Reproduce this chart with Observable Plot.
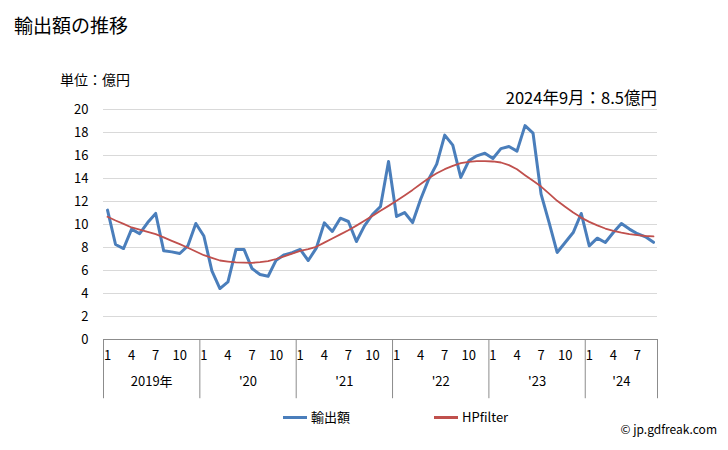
<!DOCTYPE html>
<html><head><meta charset="utf-8">
<script src="https://cdn.jsdelivr.net/npm/d3@7"></script>
<script src="https://cdn.jsdelivr.net/npm/@observablehq/plot@0.6"></script>
<style>
body{margin:0;background:#fff;font-family:"Noto Sans CJK JP","Noto Sans",sans-serif}
#wrap{position:relative;width:728px;height:450px;overflow:hidden}
#wrap svg{position:absolute;left:0;top:0}
.t{position:absolute;white-space:nowrap;color:#000;line-height:1}
.sw{position:absolute;height:3px}
</style></head><body><div id="wrap"></div>
<script>
// 2019-01 .. 2024-09 (69 months), 億円
const exportVals = [11.25,8.26,7.91,9.6,9.2,10.17,10.96,7.71,7.62,7.48,8.14,10.09,
  9.0,5.97,4.43,5.01,7.83,7.83,6.17,5.65,5.5,6.9,7.36,7.55,
  7.83,6.87,7.94,10.14,9.39,10.55,10.26,8.52,9.88,10.87,11.57,15.48,
  10.7,11.04,10.17,12.2,13.94,15.25,17.77,16.9,14.09,15.54,15.97,16.2,
  15.74,16.6,16.78,16.38,18.6,17.94,12.64,10.17,7.57,8.43,9.3,10.96,
  8.14,8.81,8.43,9.3,10.09,9.6,9.2,8.93,8.45];
const hpVals = [10.67,10.35,10.05,9.74,9.55,9.35,9.16,8.88,8.58,8.29,7.98,7.65,
  7.33,7.1,6.87,6.78,6.7,6.68,6.67,6.72,6.81,7.0,7.22,7.46,
  7.71,7.86,8.06,8.42,8.78,9.14,9.5,9.9,10.32,10.75,11.19,11.62,
  12.06,12.53,13.01,13.52,14.03,14.45,14.81,15.1,15.33,15.45,15.51,15.51,
  15.48,15.39,15.16,14.8,14.29,13.8,13.3,12.68,12.06,11.55,11.04,10.6,
  10.23,9.92,9.65,9.45,9.3,9.17,9.07,9.0,8.96];
const monthTicks = [1,4,7,10];
const yearLabels = ["2019年","'20","'21","'22","'23","'24"];
const yTicks = [0,2,4,6,8,10,12,14,16,18,20];
const seriesNames = ["輸出額","HPfilter"];

const FONT = '"Noto Sans CJK JP","Noto Sans",sans-serif';
const data = exportVals.map((v,i)=>({t:i+0.5, v, hp:hpVals[i]}));
const n = exportVals.length;
const bounds = d3.range(0, n, 12).concat([n]);
const monthLab = [];
yearLabels.forEach((y,k)=>monthTicks.forEach(m=>{const i=k*12+m-1; if(i<n) monthLab.push({x:i+0.5, text:String(m)});}));
const yearLab = yearLabels.map((y,k)=>({x:(bounds[k]+bounds[k+1])/2, text:y}));

const chart = Plot.plot({
  width:728, height:450,
  marginLeft:103, marginRight:71, marginTop:109, marginBottom:111,
  style:{fontFamily:FONT, fontSize:"13px", background:"transparent", overflow:"visible", color:"#000"},
  x:{domain:[0,n], axis:null},
  y:{domain:[0,20], axis:null},
  marks:[
    Plot.gridY(yTicks.filter(d=>d>0), {stroke:"#d9d9d9", strokeOpacity:1}),
    Plot.axisY(yTicks, {tickSize:0, tickPadding:15, label:null, fontSize:13, fill:"#000"}),
    Plot.ruleY([0], {stroke:"#8c8c8c"}),
    Plot.ruleX(bounds, {y1:0, y2:-5.15, stroke:"#8c8c8c"}),
    Plot.text(monthLab, {x:"x", y:-1.4, text:"text", fontSize:13, fill:"#000"}),
    Plot.text(yearLab, {x:"x", y:-3.65, text:"text", fontSize:13, fill:"#000"}),
    Plot.line(data, {x:"t", y:"v", stroke:"#4a7ebb", strokeWidth:3}),
    Plot.line(data, {x:"t", y:"hp", stroke:"#c0504d", strokeWidth:1.8})
  ]
});
const wrap = document.getElementById("wrap");
wrap.appendChild(chart);
function txt(s, css){const d=document.createElement("div");d.className="t";d.textContent=s;Object.assign(d.style,css);wrap.appendChild(d);return d;}
txt("輸出額の推移",{left:"14px",top:"15px",fontSize:"19px"});
txt("単位：億円",{left:"60px",top:"72px",fontSize:"14px"});
txt("2024年9月：8.5億円",{right:"71px",top:"89px",fontSize:"16.5px"});
function sw(x,c){const d=document.createElement("div");d.className="sw";Object.assign(d.style,{left:x+"px",top:"416px",width:"24px",background:c});wrap.appendChild(d);}
sw(283,"#4a7ebb"); txt(seriesNames[0],{left:"311px",top:"410px",fontSize:"13px"});
sw(434,"#c0504d"); txt(seriesNames[1],{left:"462px",top:"410px",fontSize:"13px"});
txt("© jp.gdfreak.com",{right:"11px",top:"423px",fontSize:"12px"});
</script></body></html>
